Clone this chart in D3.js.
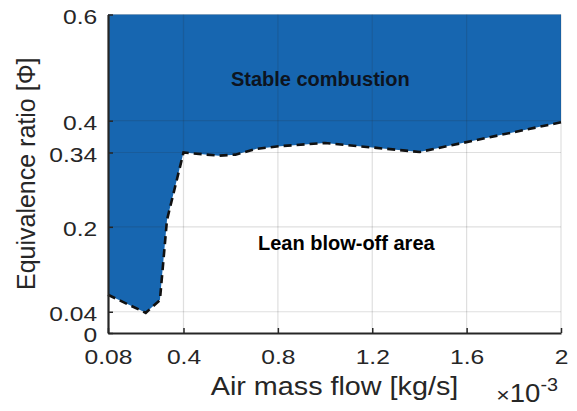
<!DOCTYPE html>
<html>
<head>
<meta charset="utf-8">
<script src="https://cdn.jsdelivr.net/npm/d3@7"></script>
<style>
  body { margin: 0; background: #fff; }
  text { font-family: "Liberation Sans", Arial, sans-serif; fill: #262626; }
</style>
</head>
<body>
<div id="chart"></div>
<script>
        // boundary between stable combustion and lean blow-off (x in 1e-3 kg/s)
        var massFlow = [0.08, 0.24, 0.30, 0.33, 0.40, 0.55, 0.62, 0.71, 0.81, 1.00, 1.40, 2.00];
        var phiLimit = [0.072, 0.038, 0.062, 0.213, 0.340, 0.334, 0.336, 0.347, 0.352, 0.358, 0.341, 0.397];

        var xTicks = [0.08, 0.4, 0.8, 1.2, 1.6, 2];
        var yTicks = [0, 0.04, 0.2, 0.34, 0.4, 0.6];
        var xGrid = [0.4, 0.8, 1.2, 1.6, 2];
        var yGrid = [0.04, 0.2, 0.34, 0.4, 0.6];

        var fullW = 577, fullH = 411;
        var margin = {top: 14.5, right: 16, bottom: 78, left: 108};
        var width = fullW - margin.left - margin.right;
        var height = fullH - margin.top - margin.bottom;

        var svg = d3.select("#chart")
                    .append("svg")
                    .attr("width", fullW)
                    .attr("height", fullH);

        var g = svg.append("g")
                    .attr("transform", "translate(" + margin.left + "," + margin.top + ")");

        var xScale = d3.scaleLinear().domain([0.08, 2]).range([0, width]);
        var yScale = d3.scaleLinear().domain([0, 0.6]).range([height, 0]);

        var data = massFlow.map(function(d, i) { return {x: d, y: phiLimit[i]}; });

        // stable region: above the boundary up to the top
        var area = d3.area()
                    .x(function(d) { return xScale(d.x); })
                    .y0(yScale(0.6))
                    .y1(function(d) { return yScale(d.y); });

        g.append("path")
            .datum(data)
            .attr("d", area)
            .attr("fill", "#1766b0");

        // grid
        g.append("g").selectAll("line.vg")
            .data(xGrid).enter().append("line")
            .attr("x1", function(d) { return xScale(d); })
            .attr("x2", function(d) { return xScale(d); })
            .attr("y1", 0).attr("y2", height)
            .attr("stroke", "#262626").attr("stroke-opacity", 0.15).attr("stroke-width", 1.2);

        g.append("g").selectAll("line.hg")
            .data(yGrid).enter().append("line")
            .attr("x1", 0).attr("x2", width)
            .attr("y1", function(d) { return yScale(d); })
            .attr("y2", function(d) { return yScale(d); })
            .attr("stroke", "#262626").attr("stroke-opacity", 0.15).attr("stroke-width", 1.2);

        // dashed limit line
        var line = d3.line()
                    .x(function(d) { return xScale(d.x); })
                    .y(function(d) { return yScale(d.y); });

        g.append("path")
            .datum(data)
            .attr("d", line)
            .attr("fill", "none")
            .attr("stroke", "#111")
            .attr("stroke-width", 2.6)
            .attr("stroke-dasharray", "8,5");

        var xAxis = d3.axisBottom(xScale)
                    .tickValues(xTicks)
                    .tickSizeInner(-5)
                    .tickSizeOuter(0)
                    .tickPadding(16)
                    .tickFormat(function(d) { return String(d); });

        var yAxis = d3.axisLeft(yScale)
                    .tickValues(yTicks)
                    .tickSizeInner(-5)
                    .tickSizeOuter(0)
                    .tickPadding(9)
                    .tickFormat(function(d) { return String(d); });

        var xg = g.append("g")
            .attr("class", "x-axis")
            .attr("transform", "translate(0," + height + ")")
            .call(xAxis);

        var yg = g.append("g")
            .attr("class", "y-axis")
            .call(yAxis);

        [xg, yg].forEach(function(ax) {
            ax.select(".domain").attr("stroke", "#262626").attr("stroke-width", 2.2);
            ax.selectAll(".tick line").attr("stroke", "#262626").attr("stroke-width", 1.5);
            ax.selectAll(".tick text")
                .style("font-family", "Liberation Sans, Arial, sans-serif")
                .style("font-size", "20.5px")
                .attr("fill", "#262626")
                .attr("transform", "scale(1.2,1)");
        });
        yg.selectAll(".tick text").attr("dy", "0.42em");

        // region labels
        g.append("text")
            .attr("x", xScale(0.98))
            .attr("y", 86 - margin.top)
            .attr("text-anchor", "middle")
            .style("font-size", "20px")
            .style("font-weight", "bold")
            .style("fill", "#0d1420")
            .text("Stable combustion");

        g.append("text")
            .attr("x", xScale(1.09))
            .attr("y", 250 - margin.top)
            .attr("text-anchor", "middle")
            .style("font-size", "20px")
            .style("font-weight", "bold")
            .style("fill", "#000")
            .text("Lean blow-off area");

        // axis titles
        svg.append("text")
            .attr("transform", "translate(" + (margin.left + width / 2) + ",395) scale(1.15,1)")
            .attr("text-anchor", "middle")
            .style("font-size", "25px")
            .text("Air mass flow [kg/s]");

        svg.append("text")
            .attr("transform", "translate(35," + (margin.top + height / 2) + ") rotate(-90)")
            .attr("text-anchor", "middle")
            .style("font-size", "25px")
            .text("Equivalence ratio [\u03A6]");

        var exp = svg.append("text")
            .attr("transform", "translate(558,402) scale(1.1,1)")
            .attr("text-anchor", "end")
            .style("font-size", "25px");
        exp.append("tspan").style("font-size", "21px").text("\u00D7");
        exp.append("tspan").text("10");
        exp.append("tspan").attr("dy", -11).style("font-size", "18px").text("-3");
</script>
</body>
</html>
